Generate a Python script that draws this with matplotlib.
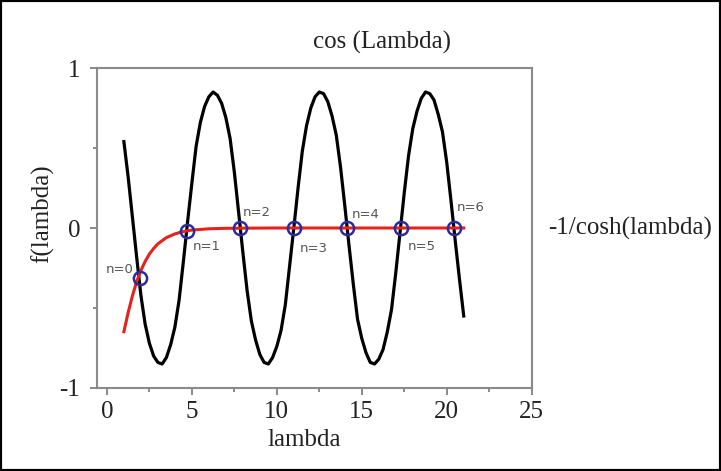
import numpy as np
import matplotlib.pyplot as plt
from matplotlib.patches import Rectangle

plt.rcParams['axes.unicode_minus'] = False

# cos(lambda) curve, values (step 0.25 from 1 to 21)
lam_cos = np.arange(1.0, 21.01, 0.25)
f_cos = [0.54, 0.32, 0.07, -0.18, -0.42, -0.60, -0.72, -0.80, -0.84, -0.85,
         -0.81, -0.73, -0.62, -0.45, -0.21, 0.04, 0.28, 0.51, 0.66, 0.76,
         0.82, 0.85, 0.83, 0.78, 0.69, 0.56, 0.35, 0.10, -0.15, -0.39,
         -0.58, -0.70, -0.79, -0.84, -0.85, -0.81, -0.74, -0.64, -0.48, -0.24,
         0.00, 0.25, 0.48, 0.64, 0.75, 0.82, 0.85, 0.84, 0.79, 0.70,
         0.58, 0.38, 0.14, -0.11, -0.35, -0.57, -0.69, -0.78, -0.84, -0.85,
         -0.82, -0.76, -0.65, -0.51, -0.28, -0.03, 0.22, 0.45, 0.62, 0.73,
         0.81, 0.85, 0.84, 0.80, 0.71, 0.60, 0.41, 0.17, -0.08, -0.32,
         -0.55]

# -1/cosh(lambda) curve
lam_ch = [1.0, 1.25, 1.5, 1.75, 2.0, 2.25, 2.5, 2.75, 3.0, 3.5, 4.0, 4.5,
          5.0, 6.0, 7.0, 8.0, 10.0, 15.0, 21.0]
f_ch = [-0.648, -0.529, -0.425, -0.336, -0.266, -0.209, -0.163, -0.128,
        -0.099, -0.060, -0.037, -0.022, -0.013, -0.005, -0.002, -0.001,
        0.0, 0.0, 0.0]

# intersection points
n_lbl = ['n=0', 'n=1', 'n=2', 'n=3', 'n=4', 'n=5', 'n=6']
n_x = [1.93, 4.71, 7.85, 10.99, 14.14, 17.28, 20.42]
n_y = [-0.31, -0.02, 0.0, 0.0, 0.0, 0.0, 0.0]

serif = 'Liberation Serif'
gray = '#8a8a8a'

fig = plt.figure(figsize=(7.21, 4.71), dpi=100)
ax = fig.add_axes([96.7 / 721, 1 - 388 / 471, (531.7 - 96.7) / 721, (388 - 68) / 471])

ax.plot(lam_cos, f_cos, color='black', lw=2.3, zorder=2,
        solid_joinstyle='round')
ax.plot(lam_ch, f_ch, color='#e3231c', lw=2.2, zorder=3,
        solid_joinstyle='round')
ax.plot(n_x, n_y, 'o', ms=9.5, mfc='none', mec='#2b2ba0', mew=1.8, zorder=4)

# label offsets in pixels (ha, dx, dy)
offs = [('right', -6, 8), ('left', 6, -15), ('left', 2, 16), ('left', 6, -20),
        ('left', 5, 14), ('left', 7, -18), ('left', 3, 21)]
for lbl, x, y, (ha, dx, dy) in zip(n_lbl, n_x, n_y, offs):
    ax.annotate(lbl, (x, y), xytext=(dx, dy), textcoords='offset pixels',
                ha=ha, va='center', fontsize=9.5, color='#555555',
                family='DejaVu Sans')

ax.set_xlim(-0.6, 25)
ax.set_ylim(-1, 1)
ax.set_xticks([0, 5, 10, 15, 20, 25])
ax.set_xticks([2.5, 7.5, 12.5, 17.5, 22.5], minor=True)
ax.set_yticks([-1, 0, 1])
ax.set_yticks([-0.5, 0.5], minor=True)
ax.tick_params(which='both', colors=gray, width=1.4, labelcolor='#222222',
               labelsize=18)
ax.tick_params(which='major', length=5)
ax.tick_params(which='minor', length=3)
ax.tick_params(axis='x', pad=4)
ax.tick_params(axis='y', pad=7)
for t in ax.get_xticklabels() + ax.get_yticklabels():
    t.set_family(serif)
for s in ax.spines.values():
    s.set_color(gray)
    s.set_linewidth(1.5)

fig.text(382 / 721, 1 - 42 / 471, 'cos (Lambda)', ha='center', va='center',
         family=serif, fontsize=18, color='#222222')
fig.text(548 / 721, 1 - 228 / 471, '-1/cosh(lambda)', ha='left', va='center',
         family=serif, fontsize=18, color='#222222')
fig.text(304 / 721, 1 - 440 / 471, 'lambda', ha='center', va='center',
         family=serif, fontsize=18, color='#222222')
fig.text(43 / 721, 1 - 214 / 471, 'f(lambda)', ha='center', va='center',
         rotation=90, family=serif, fontsize=18, color='#222222')

fig.patches.append(Rectangle((0, 0), 1, 1, transform=fig.transFigure,
                             fill=False, ec='black', lw=3))

fig.savefig('out.png', dpi=100)
